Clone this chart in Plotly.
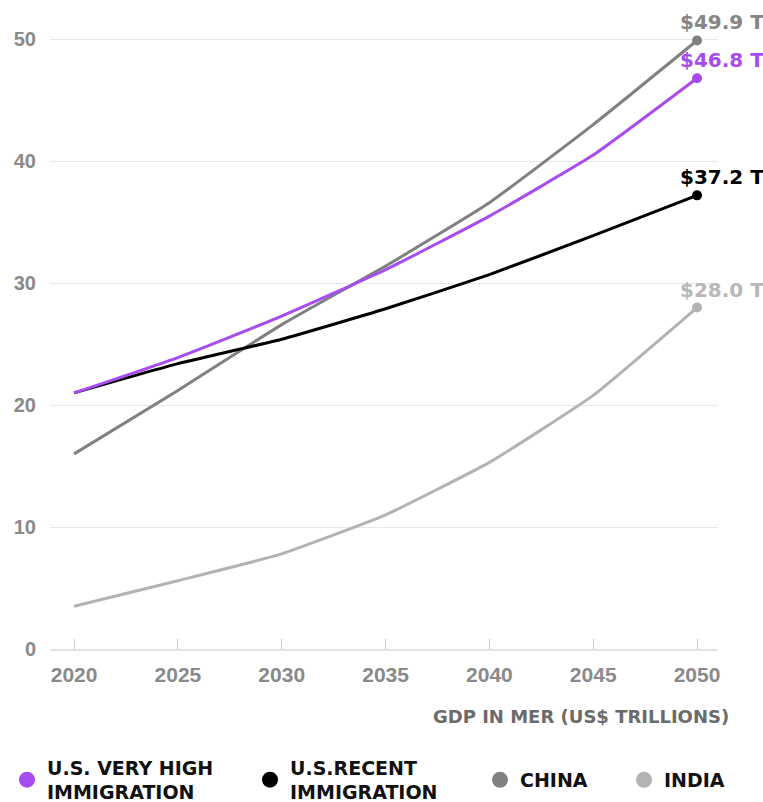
import plotly.graph_objects as go

years = [2020, 2025, 2030, 2035, 2040, 2045, 2050]
us_very_high = [21.0, 23.9, 27.3, 31.1, 35.5, 40.5, 46.8]
us_recent = [21.0, 23.4, 25.4, 27.9, 30.7, 33.9, 37.2]
china = [16.0, 21.2, 26.6, 31.4, 36.6, 43.0, 49.9]
india = [3.5, 5.6, 7.8, 11.0, 15.3, 20.8, 28.0]

series = [
    ("U.S. VERY HIGH<br>IMMIGRATION", us_very_high, "#a64cf0", "#a64cf0"),
    ("U.S.RECENT<br>IMMIGRATION", us_recent, "#000000", "#000000"),
    ("CHINA", china, "#808080", "#858585"),
    ("INDIA", india, "#b3b3b3", "#b8b8b8"),
]
legend_ids = ["legend", "legend2", "legend3", "legend4"]
legend_x = [-0.0644, 0.2994, 0.6437, 0.8593]

y_ticks = [0, 10, 20, 30, 40, 50]
x_ticks = years

fig = go.Figure()

for name, vals, color, lcolor in [series[3], series[2], series[1], series[0]]:
    fig.add_trace(go.Scatter(
        x=years, y=vals, mode="lines",
        line=dict(color=color, width=3, shape="spline", smoothing=0.4),
        showlegend=False, hoverinfo="skip"))
    fig.add_trace(go.Scatter(
        x=[years[-1]], y=[vals[-1]], mode="markers",
        marker=dict(color=color, size=10),
        showlegend=False, hoverinfo="skip"))
    fig.add_annotation(
        x=years[-1], y=vals[-1], xref="x", yref="y",
        text=f"${vals[-1]:.1f} T", showarrow=False,
        xanchor="left", yanchor="bottom", xshift=-19, yshift=4,
        font=dict(family="DejaVu Sans", size=20, color=lcolor, weight="bold"))

for (name, vals, color, lcolor), lid in zip(series, legend_ids):
    fig.add_trace(go.Scatter(
        x=[None], y=[None], mode="markers", name=name, legend=lid,
        marker=dict(color=color, size=20), showlegend=True))

fig.add_annotation(
    x=1.0, y=0, xref="paper", yref="paper",
    text="GDP IN MER (US$ TRILLIONS)", showarrow=False,
    xanchor="right", yanchor="middle", xshift=13, yshift=-67,
    font=dict(family="DejaVu Sans", size=18, color="#6b6b6b", weight="bold"))

legend_common = dict(
    orientation="h", xanchor="left", y=-0.205, yanchor="middle",
    font=dict(family="DejaVu Sans", size=19, color="#111111", weight="bold"),
    itemsizing="trace", bgcolor="rgba(0,0,0,0)")

legends = {lid: dict(legend_common, x=lx) for lid, lx in zip(legend_ids, legend_x)}

fig.update_layout(
    width=763, height=802,
    margin=dict(l=50, r=45, t=10, b=153, autoexpand=False),
    paper_bgcolor="white", plot_bgcolor="white",
    showlegend=True,
    **legends,
    xaxis=dict(
        range=[2018.84, 2051.01], tickvals=x_ticks, ticktext=[str(t) for t in x_ticks],
        showgrid=False, zeroline=False, automargin=False,
        showline=True, linecolor="#e2e2e2", linewidth=2,
        ticks="inside", ticklen=10, tickcolor="#cccccc", tickwidth=1,
        ticklabelstandoff=6,
        tickfont=dict(family="Liberation Sans", size=21, color="#8a8a8a", weight="bold")),
    yaxis=dict(
        range=[0, 52.4], tickvals=y_ticks, automargin=False,
        showgrid=True, gridcolor="#e8e8e8", gridwidth=1,
        zeroline=False, showline=False, ticks="",
        ticklabelstandoff=13,
        tickfont=dict(family="Liberation Sans", size=20, color="#8a8a8a", weight="bold")),
)

fig.write_html("out.html")
